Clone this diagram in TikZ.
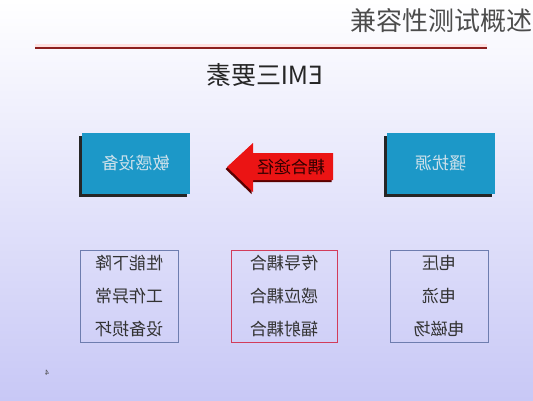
\documentclass[tikz,border=0pt]{standalone}
\usepackage{graphicx}
\usepackage{fontspec}
\newfontfamily\cjk{Noto Sans CJK SC}
\usetikzlibrary{positioning}
\definecolor{bgbot}{RGB}{200,200,246}
\definecolor{boxcyan}{RGB}{28,152,200}
\definecolor{boxtxt}{RGB}{205,225,235}
\definecolor{slate}{RGB}{110,125,175}
\definecolor{pinkred}{RGB}{210,60,90}
\definecolor{linered}{RGB}{140,30,30}
\definecolor{arrred}{RGB}{235,20,20}
\newcommand\mirtxt[1]{\scalebox{-1}[1]{#1}}
\tikzset{
  topbox/.style={fill=boxcyan, minimum width=108pt, minimum height=61pt, inner sep=0pt,
                 font=\cjk\fontsize{17}{19}\selectfont, text=boxtxt},
  shadowbox/.style={fill=black!85, minimum width=108pt, minimum height=61pt, inner sep=0pt},
  listbox/.style={draw=#1, line width=0.9pt, fill=none, minimum width=98pt, minimum height=92pt,
                  inner sep=0pt, align=center, font=\cjk\fontsize{17}{33}\selectfont, text=black!80},
}
\begin{document}
\begin{tikzpicture}[x=1pt,y=-1pt]
\useasboundingbox (0,0) rectangle (533,400);
\shade[top color=white, bottom color=bgbot] (0,0) rectangle (533,400);
% title
\node[anchor=east, font=\cjk\fontsize{26}{28}\selectfont, text=black!70, inner sep=0pt] (title) at (533,21) {兼容性测试概述};
% title rule with glow
\fill[red!12] (35,44) rectangle (487,47);
\draw[linered, line width=1.8pt] (35,48) -- (487,48);
% heading
\node[font=\cjk\fontsize{25}{27}\selectfont, text=black!85, inner sep=0pt] (head) at (265,75) {\mirtxt{EMI三要素}};
% top boxes with shadows
\node[shadowbox] (lsh) at (132.5,166) {};
\node[topbox] (lbox) at (135.5,163.5) {\mirtxt{敏感设备}};
\node[shadowbox] (rsh) at (437.5,166) {};
\node[topbox] (rbox) at (440.5,163.5) {\mirtxt{骚扰源}};
% block arrow (shadow + arrow)
\fill[red!35!black] (225.5,169) -- (251.5,145) -- (251.5,155) -- (331.5,155) -- (331.5,182) -- (251.5,182) -- (251.5,194) -- cycle;
\fill[arrred] (227,167) -- (253,143) -- (253,153) -- (333,153) -- (333,180) -- (253,180) -- (253,192) -- cycle;
\node[font=\cjk\fontsize{17}{19}\selectfont, text=black!80!red, inner sep=0pt] (arrlbl) at (291,166.5) {\mirtxt{耦合途径}};
% bottom boxes
\node[listbox=slate] (lb) at (129,296) {\mirtxt{性能下降}\\\mirtxt{工作异常}\\\mirtxt{设备损坏}};
\node[listbox=pinkred, minimum width=106pt] (mb) at (284,296) {\mirtxt{传导耦合}\\\mirtxt{感应耦合}\\\mirtxt{辐射耦合}};
\node[listbox=slate] (rb) at (439,296) {\mirtxt{电压}\\\mirtxt{电流}\\\mirtxt{电磁场}};
% page number
\node[font=\sffamily\fontsize{8}{9}\selectfont, text=black!70, inner sep=0pt] (pg) at (47,373) {\mirtxt{4}};
\end{tikzpicture}
\end{document}
